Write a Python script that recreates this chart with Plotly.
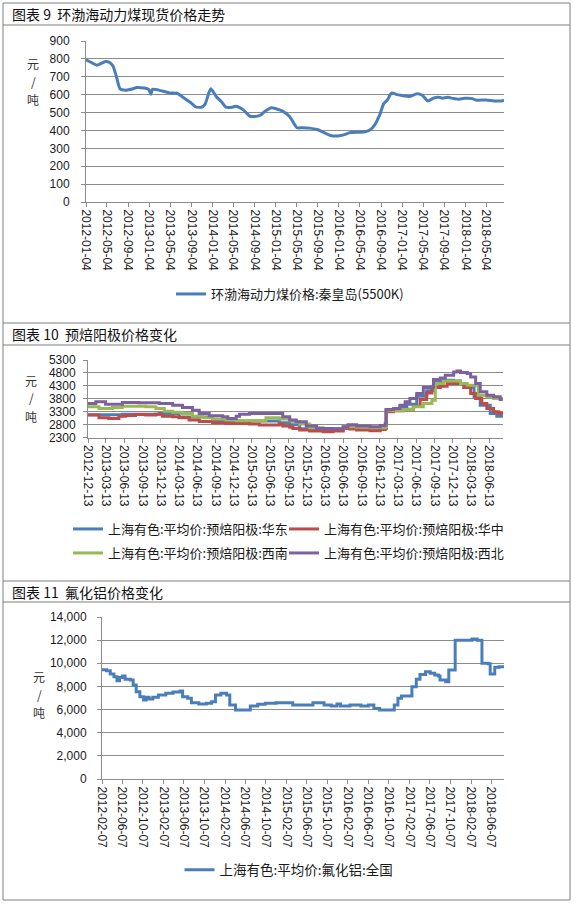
import plotly.graph_objects as go

# ---- chart 9: coal spot price (Qinhuangdao 5500K)
COAL_DATES = [
    "2012-01-04", "2012-02-04", "2012-03-07", "2012-04-25", "2012-05-16", "2012-06-07",
    "2012-06-28", "2012-07-19", "2012-08-20", "2012-10-02", "2012-10-23", "2012-12-05",
    "2012-12-31", "2013-01-13", "2013-01-22", "2013-03-20", "2013-05-01", "2013-06-13",
    "2013-07-25", "2013-09-07", "2013-09-28", "2013-10-31", "2013-11-21", "2013-12-25",
    "2014-01-25", "2014-02-25", "2014-03-22", "2014-04-28", "2014-05-19", "2014-07-01",
    "2014-08-04", "2014-09-04", "2014-10-07", "2014-11-07", "2014-12-10", "2015-01-10",
    "2015-02-13", "2015-03-25", "2015-05-07", "2015-06-07", "2015-07-19", "2015-08-31",
    "2015-10-13", "2015-11-16", "2016-01-07", "2016-02-10", "2016-03-10", "2016-05-04",
    "2016-06-04", "2016-07-01", "2016-07-28", "2016-08-28", "2016-09-19", "2016-10-10",
    "2016-11-04", "2016-12-04", "2017-01-04", "2017-02-16", "2017-03-30", "2017-04-30",
    "2017-06-01", "2017-07-02", "2017-08-04", "2017-08-25", "2017-09-25", "2017-10-28",
    "2017-11-28", "2018-01-01", "2018-02-13", "2018-03-04", "2018-05-04", "2018-06-18",
    "2018-07-31", "2018-08-15",
]
COAL_PRICE = [
    795, 780, 765, 785, 782, 762,
    700, 632, 625, 633, 640, 637,
    630, 603, 630, 620, 610, 608,
    580, 550, 532, 530, 545, 633,
    590, 560, 530, 530, 535, 515,
    482, 478, 485, 510, 527, 520,
    508, 478, 415, 415, 413, 405,
    387, 372, 370, 378, 388, 390,
    393, 402, 430, 490, 550, 570,
    610, 600, 595, 590, 605, 597,
    565, 580, 585, 580, 585, 578,
    575, 580, 578, 570, 570, 565,
    565, 570,
]

# ---- chart 10: prebaked anode prices by region
EAST_DATES = [
    "2012-12-13", "2013-06-03", "2013-12-05", "2014-03-14", "2014-08-29", "2014-11-04",
    "2015-06-09", "2015-07-29", "2015-09-19", "2015-11-08", "2016-03-04", "2016-06-13",
    "2016-10-25", "2017-01-09", "2017-01-14", "2017-03-24", "2017-04-27", "2017-06-16",
    "2017-08-05", "2017-09-08", "2017-10-28", "2017-12-18", "2018-01-21", "2018-02-07",
    "2018-03-30", "2018-04-30", "2018-06-19", "2018-07-22", "2018-08-20",
]
EAST_PRICE = [
    3190, 3210, 3230, 3100, 2950, 2941,
    2941, 2880, 2800, 2650, 2600, 2700,
    2650, 2700, 3390, 3500, 3590, 3903,
    4108, 4454, 4518, 4492, 4390, 4236,
    3877, 3556, 3236, 3133, 3300,
]

CENTRAL_DATES = [
    "2012-12-13", "2013-02-06", "2013-03-27", "2013-05-17", "2013-06-20", "2013-08-08",
    "2013-09-28", "2013-11-18", "2013-12-21", "2014-02-10", "2014-03-14", "2014-05-03",
    "2014-06-23", "2014-08-29", "2014-11-04", "2015-01-11", "2015-03-02", "2015-04-20",
    "2015-06-09", "2015-07-29", "2015-08-15", "2015-09-19", "2015-10-05", "2015-11-08",
    "2015-12-28", "2016-03-04", "2016-04-23", "2016-06-13", "2016-07-16", "2016-08-19",
    "2016-10-25", "2016-12-15", "2017-01-09", "2017-01-14", "2017-02-20", "2017-04-10",
    "2017-05-30", "2017-07-03", "2017-08-05", "2017-08-31", "2017-10-12", "2017-11-15",
    "2018-01-04", "2018-02-07", "2018-03-13", "2018-04-07", "2018-05-08", "2018-06-02",
    "2018-07-06", "2018-07-31", "2018-08-20",
]
CENTRAL_PRICE = [
    3172, 3069, 3044, 3133, 3159, 3197,
    3172, 3210, 3133, 3108, 3069, 2980,
    2928, 2877, 2851, 2851, 2826, 2787,
    2787, 2826, 2749, 2700, 2659, 2595,
    2556, 2531, 2556, 2659, 2640, 2595,
    2569, 2620, 2659, 3300, 3339, 3400,
    3518, 3774, 4030, 4236, 4287, 4390,
    4390, 4236, 4005, 3813, 3620, 3428,
    3300, 3236, 3300,
]

SOUTHWEST_DATES = [
    "2012-12-13", "2013-02-06", "2013-04-14", "2013-06-03", "2013-09-28", "2013-11-18",
    "2013-12-30", "2014-02-10", "2014-03-31", "2014-05-20", "2014-07-09", "2014-08-29",
    "2014-11-04", "2014-12-25", "2015-03-02", "2015-05-23", "2015-07-29", "2015-09-19",
    "2015-10-05", "2015-11-08", "2015-12-28", "2016-03-04", "2016-06-13", "2016-08-19",
    "2016-10-25", "2017-01-09", "2017-01-14", "2017-02-20", "2017-04-10", "2017-05-30",
    "2017-07-19", "2017-08-31", "2017-09-17", "2017-10-28", "2017-12-01", "2018-01-21",
    "2018-02-24", "2018-04-13", "2018-04-20", "2018-06-02", "2018-07-06", "2018-08-20",
]
SOUTHWEST_PRICE = [
    3492, 3428, 3467, 3518, 3492, 3428,
    3326, 3287, 3236, 3133, 3069, 3018,
    2980, 2954, 2954, 3069, 3018, 2954,
    2915, 2826, 2685, 2659, 2723, 2700,
    2685, 2723, 3364, 3339, 3390, 3492,
    3620, 3749, 4390, 4492, 4492, 4390,
    4326, 4326, 3941, 3877, 3813, 3723,
]

NORTHWEST_DATES = [
    "2012-12-13", "2013-01-21", "2013-03-11", "2013-06-03", "2013-08-25", "2013-12-05",
    "2014-02-10", "2014-03-31", "2014-05-20", "2014-06-23", "2014-08-12", "2014-10-18",
    "2014-11-13", "2014-12-25", "2015-01-11", "2015-03-02", "2015-07-13", "2015-08-15",
    "2015-09-19", "2015-10-22", "2015-12-11", "2016-01-31", "2016-04-23", "2016-06-13",
    "2016-07-07", "2016-08-19", "2016-10-25", "2016-12-15", "2017-01-09", "2017-01-14",
    "2017-02-20", "2017-03-24", "2017-04-19", "2017-05-13", "2017-06-16", "2017-07-19",
    "2017-08-31", "2017-09-08", "2017-10-12", "2017-11-06", "2017-12-18", "2018-01-04",
    "2018-01-21", "2018-02-24", "2018-03-13", "2018-04-07", "2018-04-30", "2018-06-02",
    "2018-07-06", "2018-08-08", "2018-08-20",
]
NORTHWEST_PRICE = [
    3620, 3685, 3595, 3660, 3646, 3620,
    3556, 3467, 3364, 3236, 3146, 3108,
    3044, 3133, 3210, 3236, 3236, 3108,
    2980, 2915, 2749, 2659, 2646, 2723,
    2800, 2749, 2723, 2774, 2851, 3390,
    3428, 3556, 3685, 3813, 4005, 4236,
    4261, 4543, 4607, 4710, 4838, 4877,
    4813, 4774, 4646, 4390, 4070, 3941,
    3877, 3774, 3774,
]

# ---- chart 11: aluminium fluoride, national average
ALF3_DATES = [
    "2012-02-07", "2012-03-05", "2012-03-27", "2012-04-18", "2012-05-06", "2012-05-21",
    "2012-06-08", "2012-06-23", "2012-07-25", "2012-08-10", "2012-08-28", "2012-09-19",
    "2012-10-11", "2012-10-26", "2012-11-13", "2012-12-05", "2013-01-07", "2013-02-20",
    "2013-04-04", "2013-05-16", "2013-05-31", "2013-06-30", "2013-07-22", "2013-09-04",
    "2013-10-19", "2013-11-19", "2013-12-12", "2014-01-13", "2014-02-16", "2014-03-07",
    "2014-04-10", "2014-05-24", "2014-07-07", "2014-08-20", "2014-10-04", "2014-12-07",
    "2015-03-04", "2015-03-16", "2015-06-01", "2015-07-14", "2015-08-28", "2015-09-18",
    "2015-10-31", "2015-12-04", "2015-12-25", "2016-02-19", "2016-04-24", "2016-06-07",
    "2016-07-10", "2016-08-13", "2016-10-17", "2016-11-08", "2016-11-30", "2016-12-21",
    "2017-02-03", "2017-02-21", "2017-03-19", "2017-04-10", "2017-05-13", "2017-06-10",
    "2017-07-07", "2017-07-28", "2017-08-07", "2017-09-10", "2017-09-28", "2017-10-25",
    "2017-11-05", "2017-12-29", "2018-02-13", "2018-03-15", "2018-04-07", "2018-04-13",
    "2018-05-20", "2018-06-01", "2018-06-22", "2018-06-28", "2018-07-25", "2018-08-22",
]
ALF3_PRICE = [
    9450, 9360, 9070, 8840, 8500, 8780,
    8900, 8610, 8550, 8120, 7550, 7110,
    6830, 7060, 6910, 7060, 7260, 7400,
    7520, 7600, 7110, 6970, 6600, 6480,
    6540, 6680, 7260, 7400, 7260, 6390,
    5960, 5960, 6310, 6450, 6540, 6600,
    6600, 6390, 6390, 6600, 6600, 6390,
    6310, 6480, 6310, 6390, 6310, 6390,
    6100, 5960, 5960, 6390, 6970, 7170,
    7170, 7980, 8610, 9040, 9270, 9130,
    8990, 8900, 8550, 8410, 9420, 9420,
    12000, 12000, 12100, 12000, 12000, 10000,
    9950, 9070, 9070, 9650, 9700, 9800,
]

W, H = 577, 905
GRID = "#8c8c8c"
CJK = "Noto Sans CJK SC"
TICKFONT = dict(family="Liberation Sans", size=12, color="#1a1a1a")


def px(x):
    return x / W


def py(y):
    return 1 - y / H


fig = go.Figure()

fig.add_trace(go.Scatter(
    x=COAL_DATES, y=COAL_PRICE, mode="lines", name="环渤海动力煤价格:秦皇岛(5500K)",
    line=dict(color="#4a7ebb", width=3, shape="spline", smoothing=0.6),
    xaxis="x", yaxis="y", legend="legend", showlegend=True))

# each anode series gets its own small legend so the 2x2 grid is fixed
anode = [
    (EAST_DATES, EAST_PRICE, "上海有色:平均价:预焙阳极:华东", "#4a7ebb", "legend2"),
    (CENTRAL_DATES, CENTRAL_PRICE, "上海有色:平均价:预焙阳极:华中", "#be4b48", "legend3"),
    (SOUTHWEST_DATES, SOUTHWEST_PRICE, "上海有色:平均价:预焙阳极:西南", "#98b954", "legend5"),
    (NORTHWEST_DATES, NORTHWEST_PRICE, "上海有色:平均价:预焙阳极:西北", "#7d60a0", "legend6"),
]
for d, v, name, c, lg in anode:
    fig.add_trace(go.Scatter(
        x=d, y=v, mode="lines", name=name, line=dict(color=c, width=3, shape="hv"),
        xaxis="x2", yaxis="y2", legend=lg, showlegend=True))

fig.add_trace(go.Scatter(
    x=ALF3_DATES, y=ALF3_PRICE, mode="lines", name="上海有色:平均价:氟化铝:全国",
    line=dict(color="#4a7ebb", width=3, shape="hv"),
    xaxis="x3", yaxis="y3", legend="legend4", showlegend=True))

xcommon = dict(type="date", tickformat="%Y-%m-%d", tickangle=90, tickfont=TICKFONT,
               showgrid=False, showline=True, linecolor=GRID, linewidth=1,
               ticks="outside", ticklen=4, tickcolor=GRID, zeroline=False, fixedrange=True)
ycommon = dict(tickfont=TICKFONT, showgrid=True, gridcolor=GRID, gridwidth=1,
               showline=True, linecolor=GRID, linewidth=1, ticks="outside", ticklen=4,
               tickcolor=GRID, zeroline=False, fixedrange=True)


def leg(x, y, size, xanchor="left"):
    return dict(x=px(x), y=py(y), xanchor=xanchor, yanchor="middle", orientation="h",
                font=dict(family=CJK, size=size, color="#1a1a1a"), bgcolor="rgba(0,0,0,0)")


fig.update_layout(
    width=W, height=H, margin=dict(l=0, r=0, t=0, b=0, autoexpand=False),
    paper_bgcolor="white", plot_bgcolor="white", showlegend=True,
    font=dict(family=CJK, size=13, color="#1a1a1a"),
    xaxis=dict(xcommon, domain=[px(86), px(504)], anchor="y",
               range=["2012-01-04", "2018-08-15"], tick0="2012-01-04", dtick="M4"),
    yaxis=dict(ycommon, domain=[py(202), py(41)], anchor="x", range=[0, 900], dtick=100,
               ticklabelstandoff=9),
    xaxis2=dict(xcommon, domain=[px(88), px(503)], anchor="y2",
                range=["2012-12-13", "2018-08-22"], tick0="2012-12-13", dtick="M3"),
    yaxis2=dict(ycommon, domain=[py(437.7), py(360)], anchor="x2", range=[2300, 5300],
                tick0=2300, dtick=500, ticklabelstandoff=5),
    xaxis3=dict(xcommon, domain=[px(102), px(504)], anchor="y3",
                range=["2012-02-07", "2018-08-22"], tick0="2012-02-07", dtick="M4"),
    yaxis3=dict(ycommon, domain=[py(779), py(617)], anchor="x3", range=[0, 14000],
                dtick=2000, tickformat=",d", ticklabelstandoff=8),
    legend=leg(290, 294, 13, "center"),
    legend2=leg(68, 529, 13),
    legend3=leg(284, 529, 13),
    legend5=leg(68, 553, 13),
    legend6=leg(284, 553, 13),
    legend4=leg(289, 870, 13.5, "center"),
)

# frame and title bars
border = dict(color="#7f7f7f", width=1)
fig.add_shape(type="rect", xref="paper", yref="paper", x0=px(3), x1=px(570),
              y0=py(900), y1=py(3), line=border)
for yy in [25, 323, 345, 581, 602]:
    fig.add_shape(type="line", xref="paper", yref="paper", x0=px(3), x1=px(570),
                  y0=py(yy), y1=py(yy), line=border)

titles = [("图表 9  环渤海动力煤现货价格走势", 14),
          ("图表 10  预焙阳极价格变化", 334),
          ("图表 11  氟化铝价格变化", 592)]
for t, yy in titles:
    fig.add_annotation(text=t, xref="paper", yref="paper", x=px(10), y=py(yy),
                       xanchor="left", yanchor="middle", showarrow=False,
                       font=dict(family=CJK, size=14, color="#111"))

# unit label, one glyph per line: 元 / 吨
units = [(33, [63, 81, 99]), (31, [380, 398, 416]), (39, [676, 694, 712])]
for xx, ys in units:
    for ch, yy in zip(["元", "/", "吨"], ys):
        fig.add_annotation(text=ch, xref="paper", yref="paper", x=px(xx), y=py(yy),
                           xanchor="center", yanchor="middle", showarrow=False,
                           font=dict(family=CJK, size=12, color="#333"))

fig.write_html("out.html", config={"displayModeBar": False},
               post_script="document.body.style.margin='0';")
